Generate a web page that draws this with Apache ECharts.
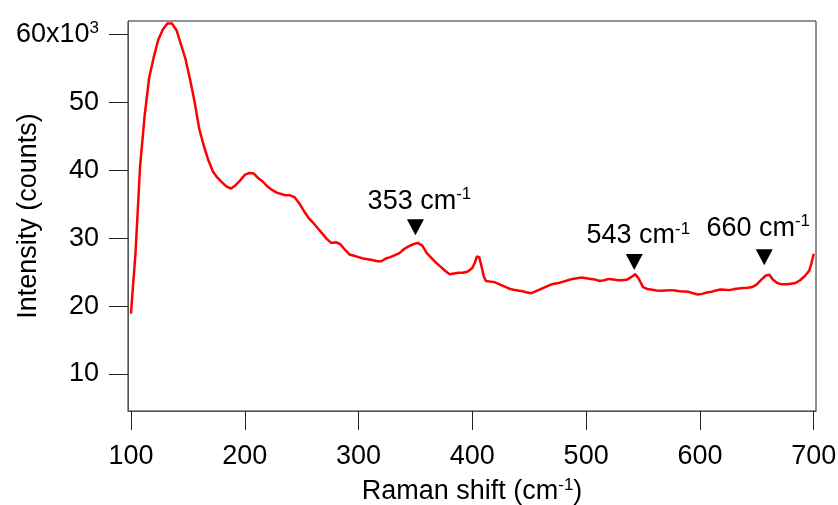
<!DOCTYPE html>
<html>
<head>
<meta charset="utf-8">
<script src="https://cdn.jsdelivr.net/npm/echarts@6/dist/echarts.min.js"></script>
<style>
  html, body { margin: 0; padding: 0; background: #fff; }
  #chart { width: 838px; height: 505px; }
</style>
</head>
<body>
<div id="chart"></div>
<script>
// Raman shift (cm-1)
var shift = [100, 104, 108, 112, 116, 120, 124, 128, 132, 136, 140, 144, 148, 152, 156, 160, 164, 168, 172, 176,
  180, 184, 188, 192, 196, 200, 204, 208, 212, 216, 220, 224, 228, 232, 236, 240, 244, 248, 252, 256,
  260, 264, 268, 272, 276, 280, 284, 288, 292, 296, 300, 304, 308, 312, 316, 320, 324, 328, 332, 336,
  340, 344, 348, 352, 356, 360, 364, 368, 372, 376, 380, 384, 388, 392, 396, 400, 402, 404, 406, 408,
  410, 412, 416, 420, 424, 428, 432, 436, 440, 444, 448, 452, 456, 460, 464, 468, 472, 476, 480, 484,
  488, 492, 496, 500, 504, 508, 512, 516, 520, 524, 528, 532, 536, 540, 543, 546, 550, 554, 558, 562,
  566, 570, 574, 578, 582, 586, 590, 594, 598, 602, 606, 610, 614, 618, 622, 626, 630, 634, 638, 642,
  646, 650, 654, 658, 661, 664, 668, 672, 676, 680, 684, 688, 692, 696, 698, 700];
// Intensity, thousands of counts
var counts = [18.9, 27.8, 40.5, 48.0, 53.6, 56.6, 59.2, 60.7, 61.6, 61.6, 60.6, 58.5, 56.3, 53.3, 50.0, 46.1, 43.6, 41.5, 39.8, 38.9,
  38.2, 37.6, 37.3, 37.8, 38.5, 39.3, 39.6, 39.5, 38.8, 38.3, 37.6, 37.1, 36.7, 36.5, 36.3, 36.3, 36.0, 35.1, 34.0, 33.0,
  32.3, 31.5, 30.7, 29.9, 29.3, 29.4, 29.1, 28.3, 27.6, 27.4, 27.2, 27.0, 26.9, 26.8, 26.6, 26.6, 27.0, 27.2, 27.5, 27.8,
  28.4, 28.8, 29.1, 29.3, 28.9, 27.8, 27.1, 26.4, 25.8, 25.2, 24.7, 24.8, 24.9, 24.9, 25.1, 25.6, 26.3, 27.3, 27.2, 25.9,
  24.4, 23.7, 23.6, 23.5, 23.2, 22.9, 22.6, 22.4, 22.3, 22.2, 22.0, 21.9, 22.2, 22.5, 22.8, 23.1, 23.3, 23.4, 23.6, 23.8,
  24.0, 24.1, 24.2, 24.1, 24.0, 23.9, 23.7, 23.8, 24.0, 23.9, 23.8, 23.8, 23.9, 24.3, 24.7, 24.1, 22.8, 22.5, 22.4, 22.3,
  22.25, 22.3, 22.35, 22.3, 22.2, 22.15, 22.1, 21.9, 21.7, 21.8, 22.0, 22.1, 22.3, 22.45, 22.4, 22.35, 22.5, 22.6, 22.65, 22.7,
  22.8, 23.2, 23.9, 24.5, 24.6, 23.9, 23.4, 23.2, 23.2, 23.3, 23.4, 23.8, 24.4, 25.2, 26.3, 27.7];

var xTicks = [100, 200, 300, 400, 500, 600, 700];
var yTicks = [10, 20, 30, 40, 50, 60];

// peak markers: position of the triangle and the label
var peakNames = ['353', '543', '660'];
var peakShift = [350, 542.3, 656.5];
var peakCounts = [31.6, 26.5, 27.2];

var points = shift.map(function (s, i) { return [s, counts[i]]; });

var FONT = 'Liberation Sans, Arial, sans-serif';
var SIZE = 27;
var sup = { fontSize: 17, fontFamily: FONT, color: '#000', verticalAlign: 'top', padding: [0, 0, 13, 0] };
var labelOffsets = [[4, -26], [4, -26], [-6, -29]];

var marks = peakNames.map(function (n, i) {
  return {
    coord: [peakShift[i], peakCounts[i]],
    label: {
      show: true,
      position: 'inside',
      offset: labelOffsets[i],
      formatter: n + ' cm{s|-1}',
      color: '#000',
      fontFamily: FONT,
      fontSize: SIZE,
      rich: { s: sup }
    }
  };
});

var myChart = echarts.init(document.getElementById('chart'));
myChart.setOption({
  animation: false,
  grid: {
    left: 128, right: 22, top: 21, bottom: 94,
    outerBoundsMode: 'none',
    containLabel: false,
    show: true, borderColor: '#222', borderWidth: 1
  },
  xAxis: {
    type: 'value',
    min: 97.4,
    max: 702,
    name: 'Raman shift (cm{s|-1})',
    nameLocation: 'middle',
    nameGap: 66,
    nameMoveOverlap: false,
    nameTextStyle: { color: '#000', fontFamily: FONT, fontSize: SIZE, rich: { s: sup } },
    axisLine: { show: true, lineStyle: { color: '#555', width: 1 } },
    axisTick: { show: true, inside: false, length: 19, customValues: xTicks, lineStyle: { color: '#222' } },
    axisLabel: { customValues: xTicks, margin: 32, color: '#000', fontFamily: FONT, fontSize: SIZE },
    splitLine: { show: false }
  },
  yAxis: {
    type: 'value',
    min: 4.56,
    max: 61.96,
    name: 'Intensity (counts)',
    nameLocation: 'middle',
    nameGap: 86,
    nameMoveOverlap: false,
    nameTextStyle: { color: '#000', fontFamily: FONT, fontSize: SIZE },
    axisLine: { show: true, lineStyle: { color: '#555', width: 1 } },
    axisTick: { show: true, inside: false, length: 19, customValues: yTicks, lineStyle: { color: '#222' } },
    axisLabel: {
      customValues: yTicks,
      margin: 29,
      color: '#000', fontFamily: FONT, fontSize: SIZE,
      formatter: function (v) { return v === 60 ? '60x10{s|3}' : String(v); },
      rich: { s: sup }
    },
    splitLine: { show: false }
  },
  series: [{
    type: 'line',
    data: points,
    showSymbol: false,
    lineStyle: { color: '#ff0000', width: 2.5 },
    markPoint: {
      symbol: 'triangle',
      symbolSize: [17, 16],
      symbolRotate: 180,
      itemStyle: { color: '#000' },
      data: marks
    }
  }]
});
</script>
</body>
</html>
